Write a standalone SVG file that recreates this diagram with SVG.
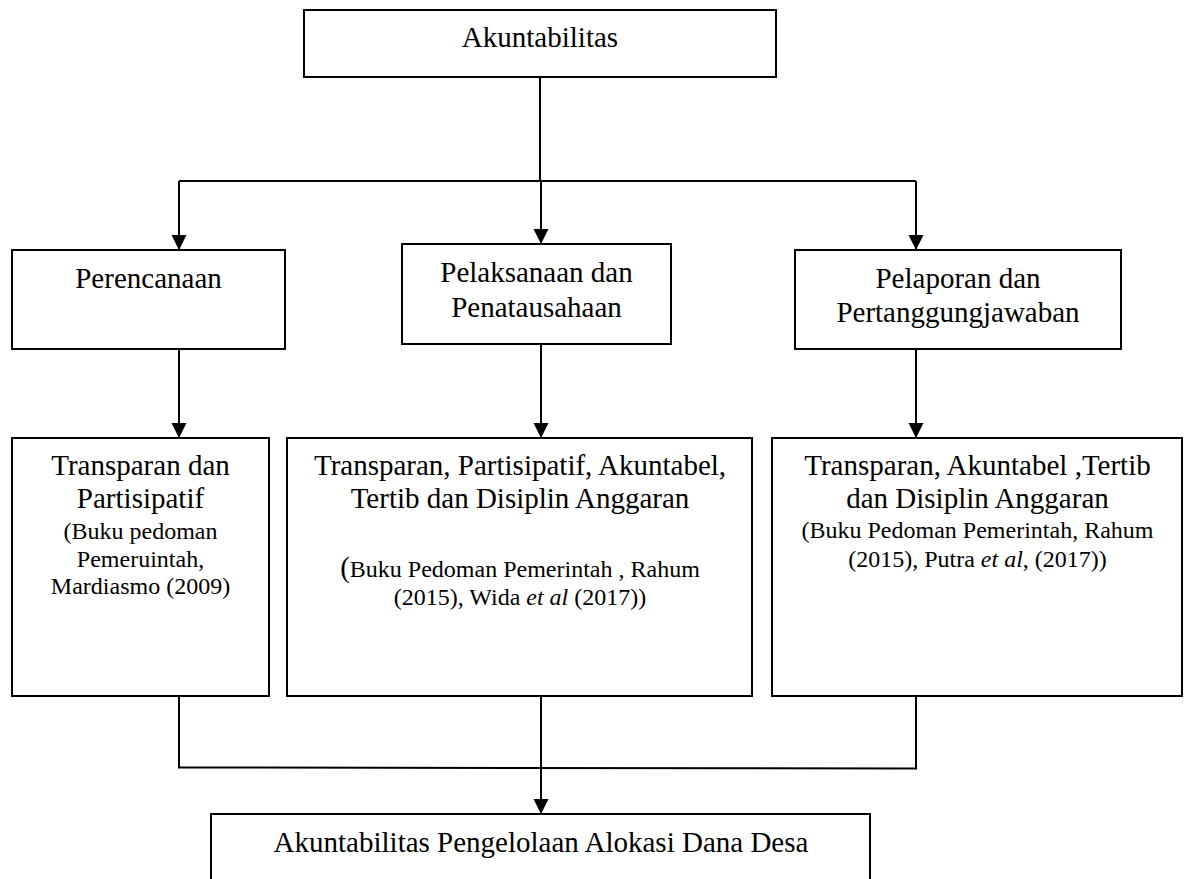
<svg xmlns="http://www.w3.org/2000/svg" width="1188" height="879" viewBox="0 0 1188 879">
  <defs>
    <marker id="arrow" markerUnits="userSpaceOnUse" markerWidth="16" markerHeight="16" refX="15" refY="7.5" orient="auto">
      <path d="M0,0 L15,7.5 L0,15 z" fill="#000"/>
    </marker>
    <style>
      .box { fill: #fff; stroke: #000; stroke-width: 2; }
      .t { font-family: "Liberation Serif", "Times New Roman", serif; fill: #000; text-anchor: middle; }
      .m { font-size: 29px; }
      .s { font-size: 24px; }
      .ln { fill: none; stroke: #000; stroke-width: 2; }
      .ar { fill: none; stroke: #000; stroke-width: 2; marker-end: url(#arrow); }
    </style>
  </defs>
  <rect width="1188" height="879" fill="#fff"/>

  <g id="connectors">
    <line class="ln" x1="540" y1="77" x2="540" y2="181"/>
    <line class="ln" x1="179" y1="181" x2="916" y2="181"/>
    <line class="ar" x1="179" y1="181" x2="179" y2="250"/>
    <line class="ar" x1="541" y1="181" x2="541" y2="244"/>
    <line class="ar" x1="916" y1="181" x2="916" y2="250"/>
    <line class="ar" x1="179" y1="349" x2="179" y2="438"/>
    <line class="ar" x1="541" y1="344" x2="541" y2="438"/>
    <line class="ar" x1="916" y1="349" x2="916" y2="438"/>
    <polyline class="ln" points="179,696 179,767.5 916,768.5 916,696"/>
    <line class="ar" x1="541" y1="696" x2="541" y2="814"/>
  </g>

  <g id="akuntabilitas">
    <rect class="box" x="304" y="10" width="472" height="67"/>
    <text class="t m" x="540" y="47">Akuntabilitas</text>
  </g>

  <g id="perencanaan">
    <rect class="box" x="12" y="250" width="273" height="99"/>
    <text class="t m" x="148.5" y="288">Perencanaan</text>
  </g>

  <g id="pelaksanaan">
    <rect class="box" x="402" y="244" width="269" height="100"/>
    <text class="t m" x="536.5" y="282">Pelaksanaan dan</text>
    <text class="t m" x="536.5" y="317">Penatausahaan</text>
  </g>

  <g id="pelaporan">
    <rect class="box" x="795" y="250" width="326" height="99"/>
    <text class="t m" x="958" y="288">Pelaporan dan</text>
    <text class="t m" x="958" y="322">Pertanggungjawaban</text>
  </g>

  <g id="prinsip-perencanaan">
    <rect class="box" x="12" y="438" width="257" height="258"/>
    <text class="t m" x="140.5" y="475">Transparan dan</text>
    <text class="t m" x="140.5" y="508">Partisipatif</text>
    <text class="t s" x="140.5" y="539">(Buku pedoman</text>
    <text class="t s" x="140.5" y="567">Pemeruintah,</text>
    <text class="t s" x="140.5" y="594">Mardiasmo (2009)</text>
  </g>

  <g id="prinsip-pelaksanaan">
    <rect class="box" x="287" y="438" width="465" height="258"/>
    <text class="t m" x="520" y="475">Transparan, Partisipatif, Akuntabel,</text>
    <text class="t m" x="520" y="508">Tertib dan Disiplin Anggaran</text>
    <text class="t s" x="520" y="577"><tspan font-size="29">(</tspan>Buku Pedoman Pemerintah , Rahum</text>
    <text class="t s" x="520" y="605">(2015), Wida <tspan font-style="italic">et al</tspan> (2017))</text>
  </g>

  <g id="prinsip-pelaporan">
    <rect class="box" x="772" y="438" width="410" height="258"/>
    <text class="t m" x="977.5" y="475">Transparan, Akuntabel ,Tertib</text>
    <text class="t m" x="977.5" y="508">dan Disiplin Anggaran</text>
    <text class="t s" x="977.5" y="538">(Buku Pedoman Pemerintah, Rahum</text>
    <text class="t s" x="977.5" y="567">(2015), Putra <tspan font-style="italic">et al</tspan>, (2017))</text>
  </g>

  <g id="akuntabilitas-pengelolaan">
    <rect class="box" x="211" y="814" width="659" height="80"/>
    <text class="t m" x="541" y="852">Akuntabilitas Pengelolaan Alokasi Dana Desa</text>
  </g>
</svg>
